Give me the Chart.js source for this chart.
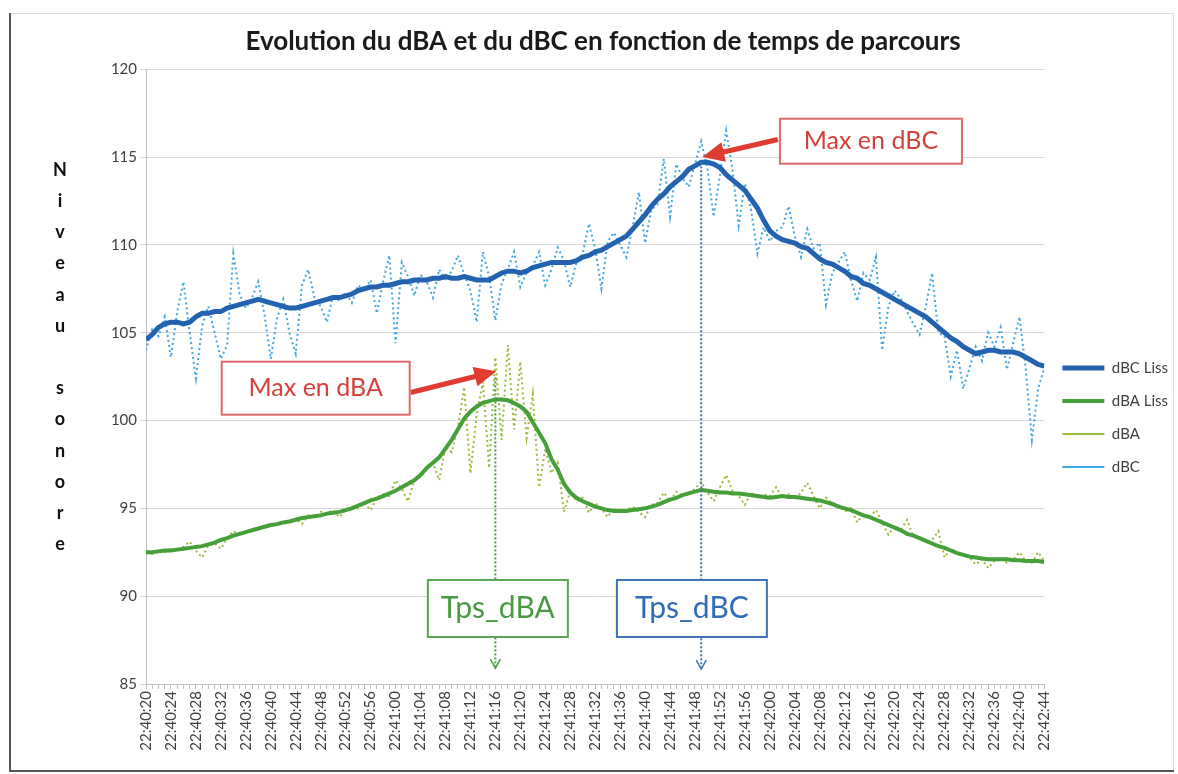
<!DOCTYPE html>
<html>
<head>
<meta charset="utf-8">
<title>Evolution du dBA et du dBC</title>
<script src="https://cdn.jsdelivr.net/npm/chart.js@4.4.1/dist/chart.umd.min.js"></script>
<style>
  html, body { margin: 0; padding: 0; background: #fff; }
  #wrap { width: 1178px; height: 774px; }
</style>
</head>
<body>
<div id="wrap"><canvas id="sonChart" width="1178" height="774"></canvas></div>
<script>
// x tick labels, one every 4 seconds (one sample per second)
var tickLabels = ["22:40:20","22:40:24","22:40:28","22:40:32","22:40:36","22:40:40","22:40:44","22:40:48","22:40:52","22:40:56",
	"22:41:00","22:41:04","22:41:08","22:41:12","22:41:16","22:41:20","22:41:24","22:41:28","22:41:32","22:41:36","22:41:40","22:41:44","22:41:48","22:41:52","22:41:56",
	"22:42:00","22:42:04","22:42:08","22:42:12","22:42:16","22:42:20","22:42:24","22:42:28","22:42:32","22:42:36","22:42:40","22:42:44"];

// dBC lissé
var dbcLiss = [104.6,104.9,105.3,105.5,105.6,105.6,105.5,105.6,105.9,106.1,
	106.1,106.2,106.2,106.4,106.5,106.6,106.7,106.8,106.9,106.8,
	106.7,106.6,106.5,106.4,106.4,106.5,106.6,106.7,106.8,106.9,
	107.0,107.0,107.1,107.2,107.4,107.5,107.6,107.6,107.7,107.7,
	107.8,107.9,107.9,108.0,108.0,108.0,108.1,108.1,108.2,108.1,
	108.1,108.2,108.1,108.0,108.0,108.0,108.2,108.4,108.5,108.5,
	108.4,108.5,108.7,108.8,108.9,109.0,109.0,109.0,109.0,109.1,
	109.3,109.4,109.6,109.7,109.9,110.1,110.3,110.5,110.9,111.3,
	111.7,112.2,112.6,112.9,113.3,113.6,113.9,114.3,114.5,114.7,
	114.7,114.6,114.4,114.0,113.7,113.4,113.1,112.6,112.1,111.4,
	110.8,110.5,110.3,110.2,110.1,109.9,109.8,109.5,109.2,109.0,
	108.9,108.7,108.5,108.2,108.1,107.8,107.7,107.5,107.3,107.1,
	106.9,106.7,106.5,106.3,106.1,105.9,105.6,105.3,105.0,104.7,
	104.5,104.2,104.0,103.8,103.9,104.0,104.0,103.9,103.9,103.9,
	103.8,103.6,103.4,103.2,103.1];

// dBA lissé
var dbaLiss = [92.5,92.5,92.55,92.6,92.6,92.65,92.7,92.75,92.8,92.85,
	92.95,93.05,93.2,93.3,93.45,93.55,93.65,93.75,93.85,93.95,
	94.05,94.1,94.2,94.25,94.35,94.45,94.5,94.55,94.6,94.7,
	94.75,94.8,94.9,95.0,95.15,95.3,95.45,95.55,95.7,95.85,
	96.0,96.2,96.4,96.6,96.9,97.3,97.6,97.9,98.4,98.9,
	99.5,100.1,100.5,100.8,101.0,101.1,101.2,101.2,101.15,101.0,
	100.8,100.5,99.9,99.3,98.7,97.8,97.2,96.4,95.9,95.6,
	95.4,95.25,95.1,95.0,94.9,94.85,94.85,94.85,94.9,94.95,
	95.0,95.1,95.2,95.35,95.5,95.6,95.75,95.85,95.95,96.05,
	96.0,95.95,95.9,95.9,95.85,95.85,95.8,95.75,95.7,95.65,
	95.6,95.65,95.7,95.65,95.65,95.6,95.55,95.5,95.45,95.35,
	95.25,95.1,95.0,94.9,94.75,94.6,94.5,94.35,94.2,94.05,
	93.9,93.75,93.55,93.45,93.3,93.15,93.0,92.85,92.75,92.6,
	92.45,92.35,92.25,92.2,92.15,92.1,92.1,92.1,92.1,92.05,
	92.05,92.0,92.0,92.0,91.95];

// dBA brut
var dba = [92.5,92.4,92.6,92.5,92.7,92.6,92.8,93.1,92.6,92.2,
	92.9,93.0,92.7,93.3,93.7,93.5,93.6,93.8,93.8,94.0,
	94.0,94.1,94.3,94.2,94.4,94.1,94.6,94.5,94.8,94.7,
	94.9,94.5,94.9,95.1,95.0,95.3,94.9,95.6,95.8,95.7,
	96.6,96.1,95.4,96.6,96.8,97.2,97.6,96.6,98.5,98.2,
	99.6,101.9,97.0,100.3,102.2,97.3,103.6,98.9,104.3,99.5,
	103.35,99.0,101.5,96.2,98.4,97.0,97.6,94.8,96.0,95.4,
	95.6,94.75,95.3,95.0,94.5,95.0,94.8,94.9,95.1,94.8,
	94.5,95.2,95.3,95.9,95.4,95.95,95.7,95.9,96.1,96.5,
	95.9,95.4,96.2,96.9,96.0,95.7,95.2,95.9,95.6,95.8,
	95.7,96.2,95.6,95.8,95.5,95.9,96.45,95.7,95.0,95.6,
	95.3,95.2,94.8,95.0,94.2,94.7,94.5,94.9,94.2,93.5,
	94.0,93.8,94.35,93.4,93.3,93.1,93.2,93.7,92.2,92.7,
	92.5,92.4,92.2,91.8,92.1,91.6,92.0,92.2,91.9,92.1,
	92.5,92.0,91.9,92.5,92.0];

// dBC brut
var dbc = [104.0,105.2,104.8,105.9,103.6,106.2,107.9,105.0,102.4,105.4,
	106.5,105.0,103.5,104.3,109.5,107.2,106.4,107.0,107.9,106.0,
	103.5,105.8,106.9,105.0,103.8,107.7,108.6,107.0,106.5,105.6,
	107.2,106.8,107.3,106.7,107.7,107.4,108.0,106.1,107.9,109.4,
	104.4,109.0,108.2,107.1,108.3,107.9,107.0,108.6,108.0,108.5,
	109.4,108.3,107.4,105.6,109.6,108.2,105.7,107.8,108.6,109.6,
	107.6,108.4,108.8,109.6,107.7,108.6,109.85,109.1,107.6,109.0,
	109.5,111.2,109.8,107.5,110.2,110.7,110.0,109.3,111.0,113.0,
	110.1,112.0,112.3,114.9,111.6,114.6,113.8,113.3,114.6,115.9,
	114.3,111.6,114.0,116.5,114.3,111.1,113.5,112.0,109.5,111.0,
	110.2,110.8,111.0,112.2,110.5,109.3,110.9,109.8,110.1,106.6,
	108.4,109.0,109.6,108.0,106.8,108.4,108.0,109.3,104.0,106.5,
	107.4,106.9,106.2,105.5,104.9,106.5,108.4,105.0,104.8,102.5,
	104.0,101.8,103.0,104.2,103.4,105.0,104.2,105.3,102.9,104.4,
	105.9,103.0,98.9,101.8,103.0];

var seriesNames = ["dBC Liss", "dBA Liss", "dBA", "dBC"];

function toPoints(arr){
	var pts = [];
	for (var i = 0; i < arr.length; i++) {
		pts.push({x: i, y: arr[i]});
	};
	return pts;
};

function indexOfMax(arr){
	var best = 0;
	for (var i = 1; i < arr.length; i++) {
		if (arr[i] > arr[best]) best = i;
	};
	return best;
};

var fontName = "Lato";
var red = "#e03c31";

// text boxes (position in data units: seconds, dB)
var notes = [
	{text: "Max en dBC", x: 116.2, y: 115.9, w: 182, h: 45, size: 25, border: "#e06a6a", color: "#d5403a"},
	{text: "Max en dBA", x: 27.2, y: 101.84, w: 188, h: 53, size: 25, border: "#e06a6a", color: "#d5403a"},
	{text: "Tps_dBA", x: 56.4, y: 89.3, w: 140, h: 57, size: 30, border: "#5aa556", color: "#4a9a44"},
	{text: "Tps_dBC", x: 87.5, y: 89.3, w: 150, h: 57, size: 30, border: "#3f72b5", color: "#2f6db5"}
];

function drawArrow(ctx, x1, y1, x2, y2, color){
	var ang = Math.atan2(y2 - y1, x2 - x1);
	var head = 22, half = 10, shaft = 2.6;
	var len = Math.sqrt((x2-x1)*(x2-x1) + (y2-y1)*(y2-y1));
	ctx.save();
	ctx.translate(x1, y1);
	ctx.rotate(ang);
	ctx.fillStyle = color;
	ctx.beginPath();
	ctx.moveTo(0, -shaft);
	ctx.lineTo(len - head, -shaft);
	ctx.lineTo(len - head, -half);
	ctx.lineTo(len, 0);
	ctx.lineTo(len - head, half);
	ctx.lineTo(len - head, shaft);
	ctx.lineTo(0, shaft);
	ctx.closePath();
	ctx.fill();
	ctx.restore();
};

function dropLine(ctx, x, yTop, yBot, color){
	ctx.save();
	ctx.strokeStyle = color;
	ctx.lineWidth = 2;
	ctx.setLineDash([2, 2]);
	ctx.beginPath();
	ctx.moveTo(x, yTop);
	ctx.lineTo(x, yBot);
	ctx.stroke();
	ctx.setLineDash([]);
	ctx.lineWidth = 1.5;
	ctx.beginPath();
	ctx.moveTo(x - 5, yBot - 9);
	ctx.lineTo(x, yBot);
	ctx.lineTo(x + 5, yBot - 9);
	ctx.stroke();
	ctx.restore();
};

var decorPlugin = {
	id: "decor",
	beforeDraw: function(chart){
		var ctx = chart.ctx;
		ctx.save();
		ctx.fillStyle = "#fff";
		ctx.fillRect(0, 0, chart.width, chart.height);
		// frame
		ctx.strokeStyle = "#dcdcdc";
		ctx.lineWidth = 1;
		ctx.beginPath();
		ctx.moveTo(10, 13.5); ctx.lineTo(1173.5, 13.5); ctx.lineTo(1173.5, 771);
		ctx.stroke();
		ctx.strokeStyle = "#555";
		ctx.lineWidth = 2;
		ctx.beginPath();
		ctx.moveTo(10, 13); ctx.lineTo(10, 771); ctx.lineTo(1174, 771);
		ctx.stroke();
		ctx.restore();
	},
	afterDatasetsDraw: function(chart){
		var ctx = chart.ctx;
		var xs = chart.scales.x, ys = chart.scales.y;
		var iA = indexOfMax(dbaLiss), iC = indexOfMax(dbcLiss);

		dropLine(ctx, xs.getPixelForValue(iA), ys.getPixelForValue(dbaLiss[iA]) - 22, ys.getPixelForValue(85.9), "#4a9a44");
		dropLine(ctx, xs.getPixelForValue(iC), ys.getPixelForValue(dbcLiss[iC]), ys.getPixelForValue(85.85), "#3f72b5");

		// arrows to the maxima
		var nC = notes[0], nA = notes[1];
		drawArrow(ctx, xs.getPixelForValue(nC.x) - nC.w / 2 - 2, ys.getPixelForValue(116.0),
			xs.getPixelForValue(iC) + 1, ys.getPixelForValue(dbcLiss[iC] + 0.3), red);
		drawArrow(ctx, xs.getPixelForValue(nA.x) + nA.w / 2 + 1, ys.getPixelForValue(101.6),
			xs.getPixelForValue(iA) + 1, ys.getPixelForValue(dbaLiss[iA] + 1.6), red);

		ctx.save();
		for (var k = 0; k < notes.length; k++) {
			var n = notes[k];
			var cx = xs.getPixelForValue(n.x), cy = ys.getPixelForValue(n.y);
			ctx.fillStyle = "#fff";
			ctx.fillRect(cx - n.w / 2, cy - n.h / 2, n.w, n.h);
			ctx.strokeStyle = n.border;
			ctx.lineWidth = 2;
			ctx.strokeRect(cx - n.w / 2, cy - n.h / 2, n.w, n.h);
			ctx.fillStyle = n.color;
			ctx.font = n.size + "px " + fontName;
			ctx.textAlign = "center";
			ctx.textBaseline = "middle";
			ctx.fillText(n.text, cx, cy);
		};
		ctx.restore();
	},
	afterDraw: function(chart){
		// vertical y axis title, one letter per line
		var ctx = chart.ctx;
		var word = "Niveau sonore";
		var step = 31.2;
		var top = 170;
		ctx.save();
		ctx.fillStyle = "#111";
		ctx.font = "bold 18px " + fontName;
		ctx.textAlign = "center";
		ctx.textBaseline = "middle";
		for (var i = 0; i < word.length; i++) {
			ctx.fillText(word.charAt(i), 60, top + i * step);
		};
		ctx.restore();
	}
};

function initChart(){
	var ctx = document.getElementById("sonChart");
	var mychart = new Chart(ctx, {
		type: "line",
		data: {
			datasets: [
				{label: seriesNames[0], data: toPoints(dbcLiss), borderColor: "#2262ae", backgroundColor: "#2262ae", borderWidth: 5, pointRadius: 0, tension: 0},
				{label: seriesNames[1], data: toPoints(dbaLiss), borderColor: "#45a03a", backgroundColor: "#45a03a", borderWidth: 4, pointRadius: 0, tension: 0},
				{label: seriesNames[2], data: toPoints(dba), borderColor: "#9cba3c", backgroundColor: "#9cba3c", borderWidth: 2, borderDash: [2, 3], pointRadius: 0, tension: 0},
				{label: seriesNames[3], data: toPoints(dbc), borderColor: "#41a6e4", backgroundColor: "#41a6e4", borderWidth: 2, borderDash: [2, 3], pointRadius: 0, tension: 0}
			]
		},
		options: {
			responsive: false,
			animation: false,
			layout: {padding: {left: 28, right: 0, top: 0, bottom: 0}},
			plugins: {
				title: {
					display: true,
					text: "Evolution du dBA et du dBC en fonction de temps de parcours",
					color: "#1a1a1a",
					font: {family: fontName, size: 26, weight: "bold"},
					padding: {top: 26, bottom: 12}
				},
				legend: {
					position: "right",
					title: {display: true, text: " ", font: {size: 14}, padding: {top: 0, bottom: 44}},
					labels: {
						usePointStyle: true,
						pointStyle: "line",
						pointStyleWidth: 42,
						color: "#404040",
						font: {family: fontName, size: 15},
						padding: 18
					}
				},
				tooltip: {enabled: false}
			},
			scales: {
				x: {
					type: "linear",
					min: 0,
					max: 144,
					afterFit: function(scale){ scale.height = 90; },
					grid: {drawOnChartArea: false, drawTicks: true, tickLength: 5, color: "#bfbfbf"},
					border: {color: "#bfbfbf"},
					ticks: {
						stepSize: 1,
						autoSkip: false,
						minRotation: 90,
						maxRotation: 90,
						padding: 2,
						color: "#404040",
						font: {family: fontName, size: 15},
						callback: function(v){ return (v % 4 === 0) ? tickLabels[v / 4] : ""; }
					}
				},
				y: {
					min: 85,
					max: 120,
					afterFit: function(scale){ scale.width = 118; },
					grid: {color: "#d9d9d9", tickLength: 6},
					border: {color: "#bfbfbf"},
					ticks: {stepSize: 5, padding: 3, color: "#404040", font: {family: fontName, size: 15}}
				}
			}
		},
		plugins: [decorPlugin]
	});
	return mychart;
};

initChart();
</script>
</body>
</html>
